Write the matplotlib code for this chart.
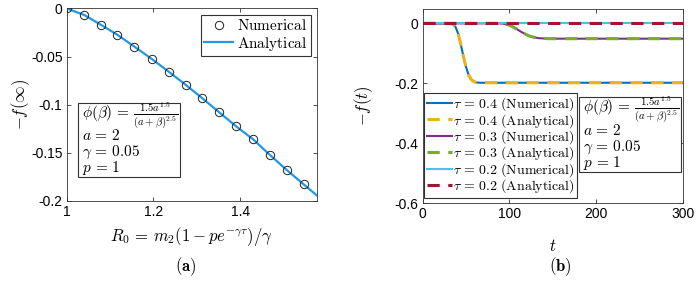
import matplotlib
matplotlib.use("Agg")
import matplotlib.pyplot as plt
from matplotlib.patches import Rectangle

plt.rcParams['mathtext.fontset'] = 'cm'
plt.rcParams['font.family'] = ['Liberation Sans', 'DejaVu Sans']
plt.rcParams['axes.unicode_minus'] = False

# ---- panel (a) data ----
r0_num = [1.0, 1.0398, 1.078, 1.117, 1.156, 1.196, 1.235, 1.274, 1.313, 1.352,
          1.391, 1.430, 1.469, 1.507, 1.546]
finf_num = [0.0, -0.0066, -0.0167, -0.0274, -0.0396, -0.0524, -0.0656, -0.0792,
            -0.0934, -0.108, -0.1226, -0.136, -0.1524, -0.1677, -0.1826]
r0_ana = [1.0, 1.0398, 1.078, 1.117, 1.156, 1.196, 1.235, 1.274, 1.313, 1.352,
          1.391, 1.430, 1.469, 1.507, 1.546, 1.58]
finf_ana = [0.0, -0.0066, -0.0167, -0.0274, -0.0396, -0.0524, -0.0656, -0.0792,
            -0.0934, -0.108, -0.1226, -0.136, -0.1524, -0.1677, -0.1826, -0.1955]

# ---- panel (b) data ----
t_04 = [0, 30, 35, 38, 41, 44, 47, 50, 53, 56, 59, 62, 66, 70, 300]
f_04_num = [0, 0, -0.003, -0.012, -0.035, -0.07, -0.11, -0.145, -0.172, -0.187,
            -0.194, -0.197, -0.198, -0.198, -0.198]
f_04_ana = f_04_num
t_03 = [0, 88, 93, 98, 103, 108, 113, 118, 123, 128, 133, 138, 145, 150, 300]
f_03_num = [0, 0, -0.001, -0.004, -0.010, -0.018, -0.027, -0.035, -0.042,
            -0.046, -0.049, -0.050, -0.051, -0.051, -0.051]
f_03_ana = f_03_num
t_02 = [0, 300]
f_02_num = [0, 0]
f_02_ana = f_02_num

param_lines = [r'$\phi(\beta)\,=\,\frac{1.5a^{1.5}}{(a+\beta)^{2.5}}$',
               r'$a\,=\,2$', r'$\gamma\,=\,0.05$', r'$p\,=\,1$']

fig = plt.figure(figsize=(6.97, 2.81), dpi=100)
frame_c = '#333333'

def style(ax):
    for s in ax.spines.values():
        s.set_color(frame_c)
        s.set_linewidth(0.6)
    ax.tick_params(direction='in', top=True, right=True, length=3,
                   width=0.6, color=frame_c, labelsize=10, pad=3)

def param_box(ax, x0, x1, y0, y1, tx, ys):
    ax.add_patch(Rectangle((x0, y0), x1 - x0, y1 - y0, transform=ax.transAxes,
                           fc='white', ec=frame_c, lw=0.8, zorder=5))
    for s, y in zip(param_lines, ys):
        ax.text(tx, y, s, transform=ax.transAxes, fontsize=11, ha='left',
                va='center', zorder=6)

# ---------------- (a) ----------------
ax1 = fig.add_axes([0.0957, 0.2847, 0.3591, 0.6851])
ax1.plot(r0_num, finf_num, 'o', mfc='none', mec='#222222', ms=6, mew=0.7,
         label=r'$\mathrm{Numerical}$', zorder=3)
ax1.plot(r0_ana, finf_ana, '-', color='#1E9AE8', lw=1.6,
         label=r'$\mathrm{Analytical}$', zorder=2)
ax1.set_xlim(1, 1.577)
ax1.set_ylim(-0.2, 0)
ax1.set_xticks([1, 1.2, 1.4])
ax1.set_xticklabels(['1', '1.2', '1.4'])
ax1.set_yticks([-0.2, -0.15, -0.1, -0.05, 0])
ax1.set_yticklabels(['-0.2', '-0.15', '-0.1', '-0.05', '0'])
style(ax1)
ax1.set_xlabel(r'$R_0\,=\,m_2(1 - pe^{-\gamma\tau})/\gamma$', fontsize=12, labelpad=4)
ax1.set_ylabel(r'$-f(\infty)$', fontsize=12, labelpad=-1)
leg1 = ax1.legend(loc='upper right', bbox_to_anchor=(0.975, 0.966),
                  borderaxespad=0, fontsize=11, handlelength=1.9,
                  handletextpad=0.25, borderpad=0.2, labelspacing=0.1,
                  fancybox=False, framealpha=1)
leg1.get_frame().set_edgecolor(frame_c)
leg1.get_frame().set_linewidth(0.8)
param_box(ax1, 0.046, 0.454, 0.126, 0.511, 0.062, [0.44, 0.338, 0.254, 0.169])
fig.text(0.267, 0.05, r'$\mathbf{(a)}$', fontsize=12, ha='center', va='center')

# ---------------- (b) ----------------
ax2 = fig.add_axes([0.6064, 0.2765, 0.3731, 0.6915])
dash = (0, (4, 2.8))
ax2.plot(t_04, f_04_num, '-', color='#0072BD', lw=1.5,
         label=r'$\tau\,=\,0.4\ (\mathrm{Numerical})$')
ax2.plot(t_04, f_04_ana, linestyle=dash, color='#EDB120', lw=2.2,
         label=r'$\tau\,=\,0.4\ (\mathrm{Analytical})$')
ax2.plot(t_03, f_03_num, '-', color='#7E2F8E', lw=1.5,
         label=r'$\tau\,=\,0.3\ (\mathrm{Numerical})$')
ax2.plot(t_03, f_03_ana, linestyle=dash, color='#77AC30', lw=2.2,
         label=r'$\tau\,=\,0.3\ (\mathrm{Analytical})$')
ax2.plot(t_02, f_02_num, '-', color='#4DBEEE', lw=1.5,
         label=r'$\tau\,=\,0.2\ (\mathrm{Numerical})$')
ax2.plot(t_02, f_02_ana, linestyle=dash, color='#A2142F', lw=2.2,
         label=r'$\tau\,=\,0.2\ (\mathrm{Analytical})$')
ax2.set_xlim(0, 300)
ax2.set_ylim(-0.6, 0.048)
ax2.set_xticks([0, 100, 200, 300])
ax2.set_yticks([-0.6, -0.4, -0.2, 0])
ax2.set_yticklabels(['-0.6', '-0.4', '-0.2', '0'])
style(ax2)
ax2.set_xlabel(r'$t$', fontsize=12, labelpad=12)
ax2.set_ylabel(r'$-f(t)$', fontsize=12, labelpad=14)
leg2 = ax2.legend(loc='lower left', bbox_to_anchor=(0.005, 0.027),
                  borderaxespad=0, fontsize=10, handlelength=1.8,
                  handletextpad=0.1, borderpad=0.2, labelspacing=-0.1,
                  fancybox=False, framealpha=1)
leg2.get_frame().set_edgecolor(frame_c)
leg2.get_frame().set_linewidth(0.8)
param_box(ax2, 0.602, 0.992, 0.161, 0.549, 0.618, [0.478, 0.374, 0.289, 0.205])
fig.text(0.804, 0.05, r'$\mathbf{(b)}$', fontsize=12, ha='center', va='center')

fig.savefig('out.png', dpi=100)
